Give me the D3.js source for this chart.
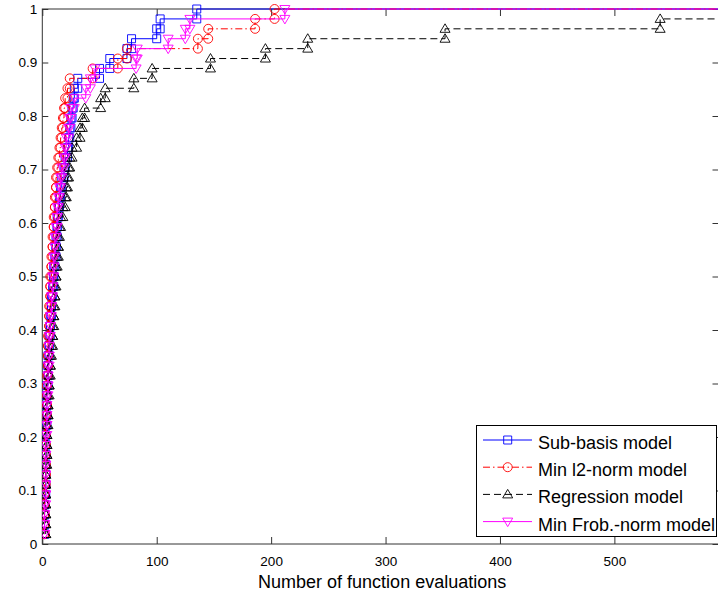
<!DOCTYPE html>
<html>
<head>
<meta charset="utf-8">
<script src="https://cdn.jsdelivr.net/npm/d3@7"></script>
<style>
	html, body { margin: 0; padding: 0; background: #fff; }
	svg { display: block; font-family: 'Liberation Sans', Arial, Helvetica, sans-serif; }
</style>
</head>
<body>
<svg id="chart" width="718" height="598"></svg>
<script>
'use strict';

// number of test problems, each curve climbs by 1/nProblems per solved problem
var nProblems = 54;

// evaluations needed to solve problem k (sorted)
var subBasisEvals = [
	2, 2, 2, 2, 2, 3, 3, 3, 3, 3,
	3, 3, 4, 4, 4, 4, 5, 5, 5, 6,
	6, 7, 7, 8, 8, 9, 10, 10, 11, 12,
	12, 13, 13, 14, 15, 16, 17, 19, 20, 22,
	23, 24, 25, 26, 27, 28, 31, 50, 59, 74,
	78, 100, 103, 135
];
var minL2Evals = [
	2, 2, 2, 2, 2, 2, 3, 3, 3, 3,
	3, 3, 3, 4, 4, 4, 4, 5, 5, 5,
	5, 6, 6, 6, 7, 7, 7, 8, 8, 9,
	9, 10, 10, 11, 11, 12, 12, 13, 14, 15,
	16, 17, 18, 19, 20, 22, 24, 44, 66, 74,
	136, 145, 186, 203
];
var regressionEvals = [
	3, 3, 3, 3, 3, 3, 3, 3, 4, 4,
	4, 4, 5, 5, 5, 6, 6, 7, 7, 8,
	9, 9, 10, 10, 11, 11, 12, 12, 13, 14,
	14, 15, 16, 18, 20, 21, 22, 23, 24, 26,
	30, 33, 35, 37, 51, 55, 80, 96, 147, 195,
	232, 352, 540
];
var minFrobEvals = [
	2, 2, 2, 2, 3, 3, 3, 3, 3, 3,
	3, 4, 4, 4, 4, 5, 5, 5, 6, 6,
	6, 7, 7, 8, 8, 9, 9, 10, 10, 11,
	11, 12, 13, 13, 14, 15, 16, 17, 19, 20,
	21, 23, 24, 25, 28, 38, 42, 46, 82, 83,
	110, 125, 129, 212
];

var seriesNames = ['Sub-basis model', 'Min l2-norm model', 'Regression model', 'Min Frob.-norm model'];
var xTicks = [0, 100, 200, 300, 400, 500];
var yTicks = [0, 0.1, 0.2, 0.3, 0.4, 0.5, 0.6, 0.7, 0.8, 0.9, 1];
var xMax = 591;
var xLabel = 'Number of function evaluations';

var styles = [
	{color: '#0000ff', dash: null, marker: 'square'},
	{color: '#ff0000', dash: '7,3,1.5,3', marker: 'circle'},
	{color: '#000000', dash: '7,4', marker: 'up'},
	{color: '#ff00ff', dash: null, marker: 'down'}
];

var series = [subBasisEvals, minL2Evals, regressionEvals, minFrobEvals].map(function(evals, i){
	return {name: seriesNames[i], evals: evals, style: styles[i]};
});

var svg = d3.select('#chart');
var plot = {left: 42.3, right: 718.5, top: 9, bottom: 544};

var x = d3.scaleLinear().domain([0, xMax]).range([plot.left, plot.right]);
var y = d3.scaleLinear().domain([0, 1]).range([plot.bottom, plot.top]);

function markerPath(type){
	switch(type){
		case 'square': return 'M-4,-4H4V4H-4Z';
		case 'circle': return 'M-4.5,0A4.5,4.5 0 1,0 4.5,0A4.5,4.5 0 1,0 -4.5,0Z';
		case 'up': return 'M0,-5L5,3.5L-5,3.5Z';
		case 'down': return 'M0,5L5,-3.5L-5,-3.5Z';
	}
}

// stairs vertices: every step gets a point at its foot and its top
function stairPoints(evals){
	var pts = [];
	evals.forEach(function(e, i){
		if(i > 0){
			pts.push([e, i / nProblems]);
		}
		pts.push([e, (i + 1) / nProblems]);
	});
	return pts;
}

svg.append('clipPath').attr('id', 'plot-clip')
	.append('rect')
		.attr('x', plot.left).attr('y', plot.top - 6)
		.attr('width', plot.right - plot.left + 6)
		.attr('height', plot.bottom - plot.top + 12);

// axes (ticks point inward, MATLAB style)
var axisColor = '#333';

svg.append('g')
	.attr('class', 'x-axis')
	.attr('transform', 'translate(0,' + plot.bottom + ')')
	.call(d3.axisBottom(x).tickValues(xTicks).tickSize(-7).tickPadding(12).tickFormat(String));

svg.append('g')
	.attr('transform', 'translate(0,' + plot.top + ')')
	.call(d3.axisTop(x).tickValues(xTicks).tickSize(-7).tickFormat(''));

svg.append('g')
	.attr('class', 'y-axis')
	.attr('transform', 'translate(' + plot.left + ',0)')
	.call(d3.axisLeft(y).tickValues(yTicks).tickSize(-6).tickPadding(5).tickFormat(String));

svg.append('g')
	.attr('transform', 'translate(' + plot.right + ',0)')
	.call(d3.axisRight(y).tickValues(yTicks).tickSize(-6).tickFormat(''));

svg.selectAll('.domain').remove();
svg.selectAll('.tick line').attr('stroke', axisColor);
svg.selectAll('.tick text')
	.attr('fill', '#000')
	.style('font-size', '13.5px');

svg.append('rect')
	.attr('x', plot.left).attr('y', plot.top)
	.attr('width', plot.right - plot.left)
	.attr('height', plot.bottom - plot.top)
	.attr('fill', 'none')
	.attr('stroke', axisColor)
	.attr('stroke-width', 1);

svg.append('text')
	.attr('x', (plot.left + 718) / 2 + 2)
	.attr('y', 588)
	.attr('text-anchor', 'middle')
	.style('font-size', '18px')
	.text(xLabel);

// curves
var line = d3.line()
	.x(function(d){ return x(d[0]); })
	.y(function(d){ return y(d[1]); });

var curves = svg.append('g').attr('clip-path', 'url(#plot-clip)');

series.forEach(function(s){
	var pts = stairPoints(s.evals);
	var last = pts[pts.length - 1];
	var g = curves.append('g');

	g.append('path')
		.datum(pts.concat([[xMax, last[1]]]))
		.attr('fill', 'none')
		.attr('stroke', s.style.color)
		.attr('stroke-width', 1)
		.attr('stroke-dasharray', s.style.dash)
		.attr('d', line);

	g.selectAll('path.marker')
		.data(pts)
		.enter().append('path')
			.attr('class', 'marker')
			.attr('transform', function(d){ return 'translate(' + x(d[0]) + ',' + y(d[1]) + ')'; })
			.attr('d', markerPath(s.style.marker))
			.attr('fill', 'none')
			.attr('stroke', s.style.color)
			.attr('stroke-width', 0.9);
});

// legend
var legend = svg.append('g').attr('class', 'legend');
legend.append('rect')
	.attr('x', 476.5).attr('y', 425.5)
	.attr('width', 240).attr('height', 111)
	.attr('fill', '#fff')
	.attr('stroke', '#000')
	.attr('stroke-width', 1);

series.forEach(function(s, i){
	var ly = 440 + 27.2 * i;
	legend.append('line')
		.attr('x1', 483).attr('x2', 532)
		.attr('y1', ly).attr('y2', ly)
		.attr('stroke', s.style.color)
		.attr('stroke-width', 1)
		.attr('stroke-dasharray', s.style.dash);
	legend.append('path')
		.attr('transform', 'translate(507.7,' + ly + ')')
		.attr('d', markerPath(s.style.marker))
		.attr('fill', 'none')
		.attr('stroke', s.style.color)
		.attr('stroke-width', 0.9);
	legend.append('text')
		.attr('x', 538)
		.attr('y', ly + 9)
		.style('font-size', '18px')
		.text(s.name);
});
</script>
</body>
</html>
